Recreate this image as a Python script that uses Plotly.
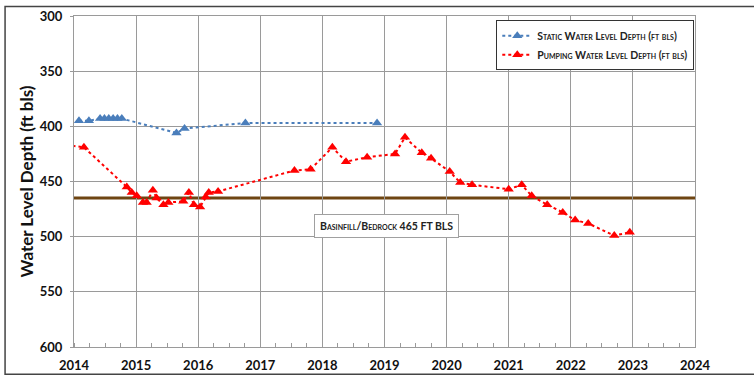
import plotly.graph_objects as go

# Static water level depth (ft below land surface)
static_year = [2014.08, 2014.24, 2014.42, 2014.49, 2014.56, 2014.63, 2014.70, 2014.77,
               2015.65, 2015.78, 2016.76, 2018.88]
static_depth = [395, 395, 393, 393, 393, 393, 393, 393, 406, 402, 397, 397]

# Pumping water level depth (ft below land surface)
pump_year = [2013.88, 2014.16, 2014.85, 2014.93, 2015.01, 2015.11, 2015.17, 2015.27, 2015.33,
             2015.44, 2015.52, 2015.76, 2015.85, 2015.93, 2016.03, 2016.12, 2016.17, 2016.32,
             2017.55, 2017.81, 2018.16, 2018.38, 2018.72, 2019.17, 2019.33, 2019.60, 2019.75,
             2020.05, 2020.22, 2020.41, 2021.00, 2021.21, 2021.37, 2021.62, 2021.87, 2022.07,
             2022.28, 2022.70, 2022.95]
pump_depth = [417, 419, 455, 460, 463, 469, 469, 458, 465, 471, 469, 468, 460, 471, 473, 464,
              460, 459, 440, 439, 419, 432, 428, 425, 410, 424, 429, 441, 451, 453, 457, 453,
              463, 471, 478, 485, 488, 499, 496]

# Basinfill / bedrock contact depth
contact_depth = 465
contact_label = "Basinfill/Bedrock 465 FT BLS"

year_ticks = list(range(2014, 2025))
depth_ticks = [300, 350, 400, 450, 500, 550, 600]

BLUE = "#4a7ebb"
RED = "#ff0000"
BROWN = "#6e4512"
GRID = "#9a9a9a"
FONT = "Lato"

fig = go.Figure()

fig.add_trace(go.Scatter(
    x=static_year, y=static_depth, mode="lines+markers",
    name="Static Water Level Depth (ft bls)",
    line=dict(color=BLUE, width=2, dash="dot"),
    marker=dict(symbol="triangle-up", size=9, color=BLUE),
))
fig.add_trace(go.Scatter(
    x=pump_year, y=pump_depth, mode="lines+markers",
    name="Pumping Water Level Depth (ft bls)",
    line=dict(color=RED, width=2, dash="dot"),
    marker=dict(symbol="triangle-up", size=9, color=RED),
))

fig.add_shape(type="line", xref="paper", yref="y", x0=0, x1=1,
              y0=contact_depth, y1=contact_depth,
              line=dict(color=BROWN, width=3), layer="between")

fig.add_annotation(
    x=2019.03, y=490, xref="x", yref="y", text=contact_label, showarrow=False,
    font=dict(family=FONT, size=10.5, color="#222", weight="bold", variant="small-caps"),
    bgcolor="white", bordercolor="#a0a0a0", borderwidth=1, borderpad=5,
)

# Outer frame around the whole chart
fig.add_shape(type="rect", xref="paper", yref="paper",
              x0=-0.111, x1=1.11, y0=-0.0825, y1=1.029,
              line=dict(color="#444", width=1.5), layer="above")

fig.update_xaxes(
    range=[2014, 2024], tickvals=year_ticks, ticktext=[str(y) for y in year_ticks],
    showgrid=True, gridcolor=GRID, gridwidth=1.3,
    showline=True, linecolor=GRID, linewidth=1, mirror=True,
    ticks="", ticklabelstandoff=6,
    tickfont=dict(family=FONT, size=13, color="#111", weight="bold"),
    minor=dict(dtick=0.25, ticks="inside", ticklen=4, tickcolor=GRID, showgrid=False),
    zeroline=False, automargin=False,
)
fig.update_yaxes(
    range=[600, 300], tickvals=depth_ticks,
    showgrid=True, gridcolor=GRID, gridwidth=1,
    showline=True, linecolor=GRID, linewidth=1, mirror=True,
    ticks="outside", ticklen=3, tickcolor=GRID, ticklabelstandoff=5,
    tickfont=dict(family=FONT, size=13, color="#111", weight="bold"),
    title=dict(text="Water Level Depth (ft bls)", standoff=1,
               font=dict(family=FONT, size=17, color="#111", weight="bold")),
    zeroline=False, automargin=False,
)

fig.update_layout(
    width=754, height=375,
    margin=dict(l=74, r=59, t=16, b=28),
    paper_bgcolor="white", plot_bgcolor="white",
    legend=dict(
        x=0.68, y=0.987, xanchor="left", yanchor="top",
        bgcolor="white", bordercolor="#333", borderwidth=1,
        font=dict(family=FONT, size=10.5, color="#222", weight="bold", variant="small-caps"),
    ),
)

fig.write_html("out.html")
